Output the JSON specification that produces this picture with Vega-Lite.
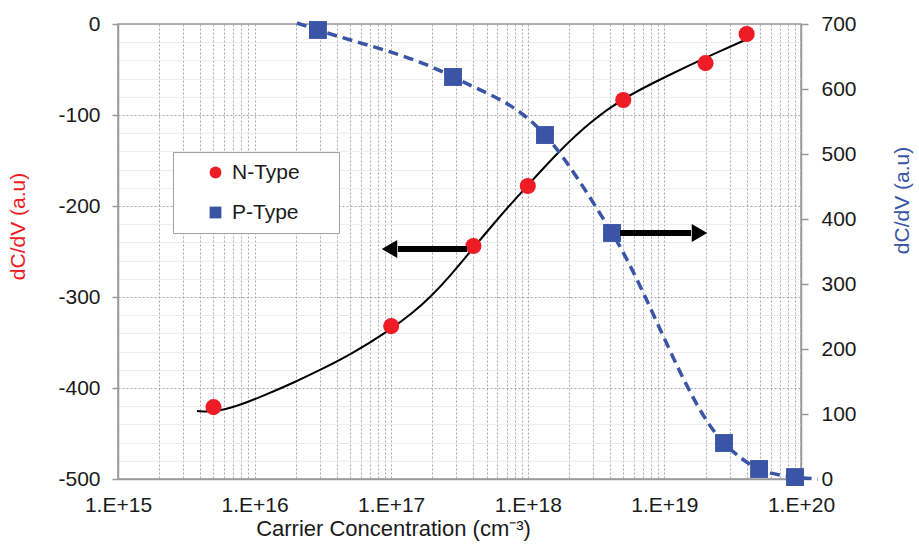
{
  "$schema": "https://vega.github.io/schema/vega-lite/v6.json",
  "width": 683,
  "height": 455,
  "autosize": {"type": "none"},
  "padding": {"left": 118, "top": 24, "right": 118, "bottom": 67},
  "background": "white",
  "config": {
    "font": "Liberation Sans",
    "view": {"stroke": "#9a9a9a", "strokeWidth": 1.5},
    "axis": {
      "labelFont": "Liberation Sans",
      "labelFontSize": 21,
      "labelColor": "#1a1a1a",
      "titleFont": "Liberation Sans",
      "titleFontSize": 21,
      "titleFontWeight": "normal",
      "domainColor": "#9a9a9a",
      "domainWidth": 1.5,
      "tickColor": "#9a9a9a",
      "tickWidth": 1.5
    }
  },
  "datasets": {
    "nfit": [
      {"x": 3.79e15, "y": -425.3},
      {"x": 5.04e15, "y": -426.4},
      {"x": 7.19e15, "y": -420.9},
      {"x": 1.152e16, "y": -408.8},
      {"x": 1.91e16, "y": -394.5},
      {"x": 3.01e16, "y": -380.2},
      {"x": 4.99e16, "y": -363.7},
      {"x": 9.8e16, "y": -336.3},
      {"x": 1.444e17, "y": -317.3},
      {"x": 1.923e17, "y": -300.5},
      {"x": 2.562e17, "y": -280.9},
      {"x": 3.97e17, "y": -246.6},
      {"x": 6.26e17, "y": -211},
      {"x": 1.003e18, "y": -176.9},
      {"x": 1.72e18, "y": -138.5},
      {"x": 2.853e18, "y": -107.7},
      {"x": 4.98e18, "y": -81.3},
      {"x": 1.045e19, "y": -57.1},
      {"x": 2.051e19, "y": -36.3},
      {"x": 4.53e19, "y": -13.2}
    ],
    "npts": [
      {"x": 5e15, "y": -421, "type": "N-Type"},
      {"x": 1e17, "y": -332, "type": "N-Type"},
      {"x": 4e17, "y": -244, "type": "N-Type"},
      {"x": 1e18, "y": -178, "type": "N-Type"},
      {"x": 5e18, "y": -83.5, "type": "N-Type"},
      {"x": 2e19, "y": -43, "type": "N-Type"},
      {"x": 4e19, "y": -11, "type": "N-Type"}
    ],
    "ppts": [
      {"x": 2.91e16, "y": 690.8, "type": "P-Type"},
      {"x": 2.835e17, "y": 618.5, "type": "P-Type"},
      {"x": 1.336e18, "y": 529.2, "type": "P-Type"},
      {"x": 4.135e18, "y": 378.5, "type": "P-Type"},
      {"x": 2.731e19, "y": 55.4, "type": "P-Type"},
      {"x": 4.93e19, "y": 15.4, "type": "P-Type"},
      {"x": 9.04e19, "y": 3, "type": "P-Type"}
    ],
    "pline": [
      {"x": 2.04e16, "y": 701.5},
      {"x": 2.91e16, "y": 690.8},
      {"x": 2.835e17, "y": 618.5},
      {"x": 1.336e18, "y": 529.2},
      {"x": 4.135e18, "y": 378.5},
      {"x": 2.731e19, "y": 55.4},
      {"x": 4.93e19, "y": 15.4},
      {"x": 9.04e19, "y": 3},
      {"x": 1.332e20, "y": 0}
    ],
    "shaftL": [{"x": 3.59e17, "x2": 1.12e17, "y": -247.3}],
    "headL": [{"x": 9.72e16, "y": -247.3}],
    "shaftR": [{"x": 4.73e18, "x2": 1.566e19, "y": 378.5}],
    "headR": [{"x": 1.807e19, "y": 378.5}]
  },
  "encoding": {
    "x": {
      "field": "x",
      "type": "quantitative",
      "scale": {"type": "log", "domain": [1e15, 1e20], "nice": false},
      "axis": {
        "values": [1e15, 2e15, 3e15, 4e15, 5e15, 6e15, 7e15, 8e15, 9e15,
                   1e16, 2e16, 3e16, 4e16, 5e16, 6e16, 7e16, 8e16, 9e16,
                   1e17, 2e17, 3e17, 4e17, 5e17, 6e17, 7e17, 8e17, 9e17,
                   1e18, 2e18, 3e18, 4e18, 5e18, 6e18, 7e18, 8e18, 9e18,
                   1e19, 2e19, 3e19, 4e19, 5e19, 6e19, 7e19, 8e19, 9e19, 1e20],
        "grid": true,
        "gridColor": "#a8a8a8",
        "gridDash": [2, 2],
        "gridWidth": 1,
        "ticks": false,
        "tickSize": 0,
        "labelOverlap": false,
        "labelFlush": false,
        "labelBound": false,
        "labelBaseline": "middle",
        "labelPadding": 26,
        "labelExpr": "abs(log(datum.value)/LN10 - round(log(datum.value)/LN10)) < 0.01 ? '1.E+' + round(log(datum.value)/LN10) : ''",
        "title": "Carrier Concentration  (cm⁻³)",
        "titleFontSize": 22,
        "titleX": 275,
        "titleY": 49,
        "titleAlign": "center",
        "titleBaseline": "middle",
        "titleColor": "#1a1a1a"
      }
    }
  },
  "layer": [
    {
      "encoding": {
        "y": {
          "field": "y",
          "type": "quantitative",
          "scale": {"domain": [-500, 0], "nice": false, "zero": false},
          "axis": {
            "orient": "left",
            "values": [-500, -480, -460, -440, -420, -400, -380, -360, -340, -320, -300, -280, -260, -240, -220, -200, -180, -160, -140, -120, -100, -80, -60, -40, -20, 0],
            "grid": true,
            "gridColor": {"condition": {"test": "datum.value % 100 == 0", "value": "#a8a8a8"}, "value": "#e6e6e6"},
            "gridDash": {"condition": {"test": "datum.value % 100 == 0", "value": [2, 2]}, "value": [1, 0]},
            "gridWidth": 1,
            "tickSize": 6,
            "tickOpacity": {"condition": {"test": "datum.value % 100 == 0", "value": 1}, "value": 0},
            "labelPadding": 12,
            "labelExpr": "datum.value % 100 == 0 ? '' + datum.value : ''",
            "labelOverlap": false,
            "title": "dC/dV  (a.u)",
            "titleColor": "#ee1c25",
            "titleAngle": 270,
            "titleX": -100,
            "titleY": 202,
            "titleAlign": "center",
            "titleBaseline": "middle"
          }
        }
      },
      "layer": [
        {
          "data": {"name": "nfit"},
          "mark": {"type": "line", "color": "#000000", "strokeWidth": 2, "interpolate": "basis"}
        },
        {
          "data": {"name": "npts"},
          "mark": {"type": "point", "filled": true, "opacity": 1, "size": 260, "strokeWidth": 0},
          "encoding": {
            "color": {
              "field": "type",
              "type": "nominal",
              "scale": {"domain": ["N-Type", "P-Type"], "range": ["#ee1c25", "#3a54a6"]},
              "legend": {
                "orient": "none",
                "legendX": 55,
                "legendY": 128,
                "title": null,
                "fillColor": "#ffffff",
                "strokeColor": "#a0a0a0",
                "padding": 10,
                "symbolOffset": 22,
                "symbolSize": 140,
                "symbolStrokeWidth": 0,
                "symbolOpacity": 1,
                "labelFont": "Liberation Sans",
                "labelFontSize": 21,
                "labelColor": "#1a1a1a",
                "labelOffset": 6,
                "rowPadding": 18,
                "labelExpr": "datum.label + '\u00a0\u00a0\u00a0\u00a0\u00a0\u200b'"
              }
            },
            "shape": {
              "field": "type",
              "type": "nominal",
              "scale": {"domain": ["N-Type", "P-Type"], "range": ["circle", "square"]}
            }
          }
        },
        {
          "data": {"name": "shaftL"},
          "mark": {"type": "rule", "color": "#000000", "strokeWidth": 6},
          "encoding": {"x2": {"field": "x2"}}
        },
        {
          "data": {"name": "headL"},
          "mark": {"type": "point", "shape": "triangle-left", "filled": true, "color": "#000000", "opacity": 1, "size": 320, "strokeWidth": 0}
        }
      ]
    },
    {
      "encoding": {
        "y": {
          "field": "y",
          "type": "quantitative",
          "scale": {"domain": [0, 700], "nice": false, "zero": false},
          "axis": {
            "orient": "right",
            "values": [0, 100, 200, 300, 400, 500, 600, 700],
            "grid": false,
            "tickSize": 7,
            "labelPadding": 13,
            "labelOverlap": false,
            "title": "dC/dV (a.u)",
            "titleColor": "#3a54a6",
            "titleAngle": 270,
            "titleX": 101,
            "titleY": 176,
            "titleAlign": "center",
            "titleBaseline": "middle"
          }
        }
      },
      "layer": [
        {
          "data": {"name": "pline"},
          "mark": {"type": "line", "color": "#3a54a6", "strokeWidth": 3.5, "strokeDash": [10, 6], "interpolate": "monotone"}
        },
        {
          "data": {"name": "ppts"},
          "mark": {"type": "point", "filled": true, "opacity": 1, "size": 320, "strokeWidth": 0},
          "encoding": {
            "color": {"field": "type", "type": "nominal"},
            "shape": {"field": "type", "type": "nominal"}
          }
        },
        {
          "data": {"name": "shaftR"},
          "mark": {"type": "rule", "color": "#000000", "strokeWidth": 6},
          "encoding": {"x2": {"field": "x2"}}
        },
        {
          "data": {"name": "headR"},
          "mark": {"type": "point", "shape": "triangle-right", "filled": true, "color": "#000000", "opacity": 1, "size": 320, "strokeWidth": 0}
        }
      ]
    }
  ],
  "resolve": {"scale": {"y": "independent"}}
}
